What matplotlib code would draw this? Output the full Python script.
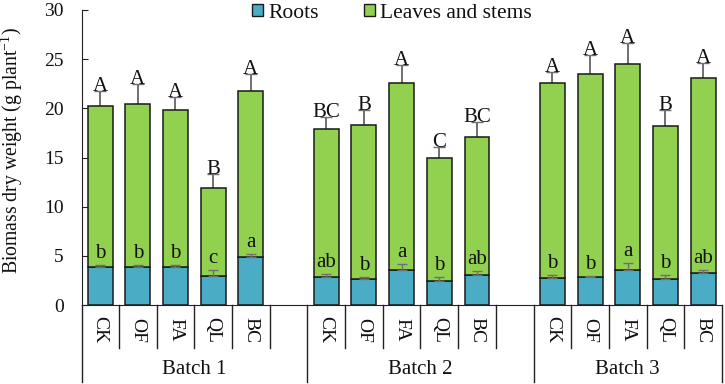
import matplotlib
matplotlib.use("Agg")
import matplotlib.pyplot as plt
import numpy as np
from matplotlib.transforms import blended_transform_factory
from matplotlib.patches import Patch

plt.rcParams['font.family'] = ['Liberation Serif', 'DejaVu Serif']
plt.rcParams['mathtext.fontset'] = 'custom'
plt.rcParams['mathtext.rm'] = 'Liberation Serif'
plt.rcParams['mathtext.it'] = 'Liberation Serif:italic'

treatments = ["CK", "OF", "FA", "QL", "BC"]
batches = ["Batch 1", "Batch 2", "Batch 3"]

roots = [[3.85, 3.85, 3.85, 2.98, 4.85],
         [2.88, 2.62, 3.56, 2.47, 3.02],
         [2.75, 2.88, 3.56, 2.61, 3.29]]
roots_err = [[0.22, 0.25, 0.25, 0.6, 0.35],
             [0.27, 0.26, 0.6, 0.4, 0.47],
             [0.27, 0.08, 0.75, 0.4, 0.27]]
total = [[20.2, 20.4, 19.8, 11.9, 21.8],
         [17.9, 18.3, 22.6, 14.9, 17.1],
         [22.55, 23.5, 24.5, 18.2, 23.1]]
total_err = [[1.6, 2.1, 1.4, 1.4, 1.7],
             [1.2, 1.5, 1.8, 1.2, 1.5],
             [1.15, 1.9, 2.1, 1.6, 1.5]]
upper_letters = [["A", "A", "A", "B", "A"],
                 ["BC", "B", "A", "C", "BC"],
                 ["A", "A", "A", "B", "A"]]
lower_letters = [["b", "b", "b", "c", "a"],
                 ["ab", "b", "a", "b", "ab"],
                 ["b", "b", "a", "b", "ab"]]

root_color = "#4BACC6"
leaf_color = "#92D050"
edge = "#1a1a1a"
errc = "#6f6f6f"
txtc = "#111111"

fig = plt.figure(figsize=(7.25, 3.84), dpi=100)
ax = fig.add_axes([82/725, 1-305/384, (722-82)/725, 295/384])

slot = 0
positions = []
for b in range(3):
    pos = []
    for t in range(5):
        pos.append(slot)
        slot += 1
    positions.append(pos)
    slot += 1

w = 0.66
for b in range(3):
    x = np.array(positions[b])
    r = np.array(roots[b])
    tot = np.array(total[b])
    ax.bar(x, r, w, color=root_color, edgecolor=edge, linewidth=1.1, zorder=2)
    ax.bar(x, tot - r, w, bottom=r, color=leaf_color, edgecolor=edge, linewidth=1.1, zorder=2)
    ax.errorbar(x, r, yerr=[np.zeros(5), roots_err[b]], fmt='none', ecolor=errc,
                elinewidth=1.0, capsize=3.5, capthick=1.0, zorder=3)
    ax.errorbar(x, tot, yerr=[np.zeros(5), total_err[b]], fmt='none', ecolor=errc,
                elinewidth=1.4, capsize=4, capthick=1.0, zorder=1)
    for i in range(5):
        ax.annotate(upper_letters[b][i], (x[i], tot[i] + total_err[b][i]),
                    xytext=(0, 0), textcoords='offset points', ha='center', va='baseline',
                    fontsize=15, color=txtc)
        ax.annotate(lower_letters[b][i], (x[i], r[i] + roots_err[b][i]),
                    xytext=(0, 5), textcoords='offset points', ha='center', va='baseline',
                    fontsize=15, color=txtc)

ax.set_xlim(-0.48, 16.5)
ax.set_ylim(0, 30)
ax.set_yticks(np.arange(0, 31, 5))
ax.tick_params(axis='y', direction='in', length=4, labelsize=14, colors=txtc, pad=13)
ax.tick_params(axis='y', color='#222222')
ax.set_xticks([])
for s in ['top', 'right']:
    ax.spines[s].set_visible(False)
ax.spines['left'].set_color('#222222')
ax.spines['bottom'].set_color('#222222')
ax.spines['left'].set_bounds(0, 30)

ax.set_ylabel("Biomass dry weight (g plant$^{\\mathrm{-1}}$)", fontsize=14.2, color=txtc)
ax.yaxis.set_label_coords((25-82)/640, (305-151)/295)

trans = blended_transform_factory(ax.transData, ax.transAxes)
short_y = -(348-305)/295
long_y = -(382-305)/295
for b in range(3):
    for i in range(5):
        xs = positions[b][i] + 0.5
        if b == 2 and i == 4:
            continue
        ax.plot([xs, xs], [0, short_y], transform=trans, color='#222222', lw=1.0, clip_on=False)

for xs in [-0.48, 5.5, 11.5, 16.5]:
    ax.plot([xs, xs], [0, long_y], transform=trans, color='#222222', lw=1.0, clip_on=False)

for b in range(3):
    for i in range(5):
        ax.text(positions[b][i], -(330-305)/295, treatments[i], transform=trans,
                rotation=-90, ha='center', va='center', fontsize=14, color=txtc)
centers = [2.5, 8.5, 14.0]
for b in range(3):
    ax.text(centers[b], -(369-305)/295, batches[b], transform=trans,
            ha='center', va='center', fontsize=15, color=txtc)

handles = [Patch(facecolor=root_color, edgecolor=edge, linewidth=1.0, label="Roots"),
           Patch(facecolor=leaf_color, edgecolor=edge, linewidth=1.0, label="Leaves and stems")]
ax.legend(handles=handles, loc='center', bbox_to_anchor=((392-82)/640, 1 - 3.5/295),
          ncol=2, frameon=False, fontsize=15.5, handlelength=0.5, handleheight=0.5,
          handletextpad=0.25, columnspacing=2.1, borderaxespad=0, labelcolor=txtc)

fig.savefig("out.png", dpi=100)
